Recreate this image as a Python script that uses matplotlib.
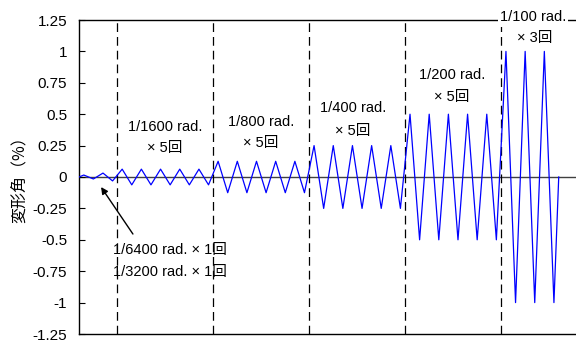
import matplotlib
matplotlib.use("Agg")
import matplotlib.pyplot as plt
import numpy as np

# Loading protocol data
level_labels = ["1/6400 rad.", "1/3200 rad.", "1/1600 rad.", "1/800 rad.",
                "1/400 rad.", "1/200 rad.", "1/100 rad."]
amplitudes = [0.015625, 0.03125, 0.0625, 0.125, 0.25, 0.5, 1.0]   # %
cycles = [1, 1, 5, 5, 5, 5, 3]
boundaries = [2, 7, 12, 17, 22]           # dashed line positions (cycle count)
yticks = [1.25, 1, 0.75, 0.5, 0.25, 0, -0.25, -0.5, -0.75, -1, -1.25]
ytick_labels = ["1.25", "1", "0.75", "0.5", "0.25", "0", "-0.25", "-0.5", "-0.75", "-1", "-1.25"]

# Build the zigzag: 0 -> (+A at quarter, -A at three quarters) ... -> 0
xs, ys = [0.0], [0.0]
c = 0
for amp, n in zip(amplitudes, cycles):
    for _ in range(n):
        xs += [c + 0.25, c + 0.75]
        ys += [amp, -amp]
        c += 1
xs.append(float(c))
ys.append(0.0)

fam = ["Liberation Sans", "Noto Sans CJK JP", "DejaVu Sans"]
plt.rcParams['font.family'] = fam

fig = plt.figure(figsize=(5.76, 3.41), dpi=100)
ax = fig.add_axes([79/576, 7/341, 1 - 79/576, (334 - 20)/341])

ax.axhline(0, color="#404040", lw=1.0, zorder=1)
for b in boundaries:
    ax.axvline(b, color="black", lw=0.9, ls=(0, (7, 4)), zorder=2)
ax.plot(xs, ys, color="#0000ff", lw=0.9, zorder=3)

ax.set_xlim(0, 25.9)
ax.set_ylim(-1.25, 1.25)
ax.set_yticks(yticks)
ax.set_yticklabels(ytick_labels)
ax.set_xticks([])
ax.tick_params(axis="y", direction="in", length=4, labelsize=11, pad=8.5, width=0.8)
ax.spines["right"].set_visible(False)
for s in ["left", "bottom", "top"]:
    ax.spines[s].set_linewidth(1.0)
    ax.spines[s].set_color("black")

fig.text(19/576, 1 - 176/341, "変形角（%）", fontsize=11.5, rotation=90,
         ha="center", va="center", family=["Noto Sans CJK JP", "DejaVu Sans"])

fs = 10.5
def lbl(x, y, s, **kw):
    ax.text(x, y, s, fontsize=fs, ha="center", va="center", zorder=5, **kw)

lbl(4.48, 0.40, "1/1600 rad.")
lbl(4.48, 0.23, "× 5回")
lbl(9.48, 0.44, "1/800 rad.")
lbl(9.48, 0.27, "× 5回")
lbl(14.27, 0.55, "1/400 rad.")
lbl(14.27, 0.37, "× 5回")
lbl(19.43, 0.81, "1/200 rad.")
lbl(19.43, 0.64, "× 5回")
ax.text(23.65, 1.27, "1/100 rad.", fontsize=fs, ha="center", va="center", zorder=5,
        clip_on=False, bbox=dict(facecolor="white", edgecolor="none", pad=1.5))
lbl(23.75, 1.11, "× 3回")

ax.text(1.77, -0.58, "1/6400 rad. × 1回", fontsize=fs, ha="left", va="center", zorder=5)
ax.text(1.77, -0.76, "1/3200 rad. × 1回", fontsize=fs, ha="left", va="center", zorder=5)
ax.annotate("", xy=(1.15, -0.08), xytext=(2.81, -0.454),
            arrowprops=dict(arrowstyle="-|>", color="black", lw=1.0,
                            mutation_scale=10, shrinkA=0, shrinkB=0))

fig.savefig("out.png", dpi=100)
